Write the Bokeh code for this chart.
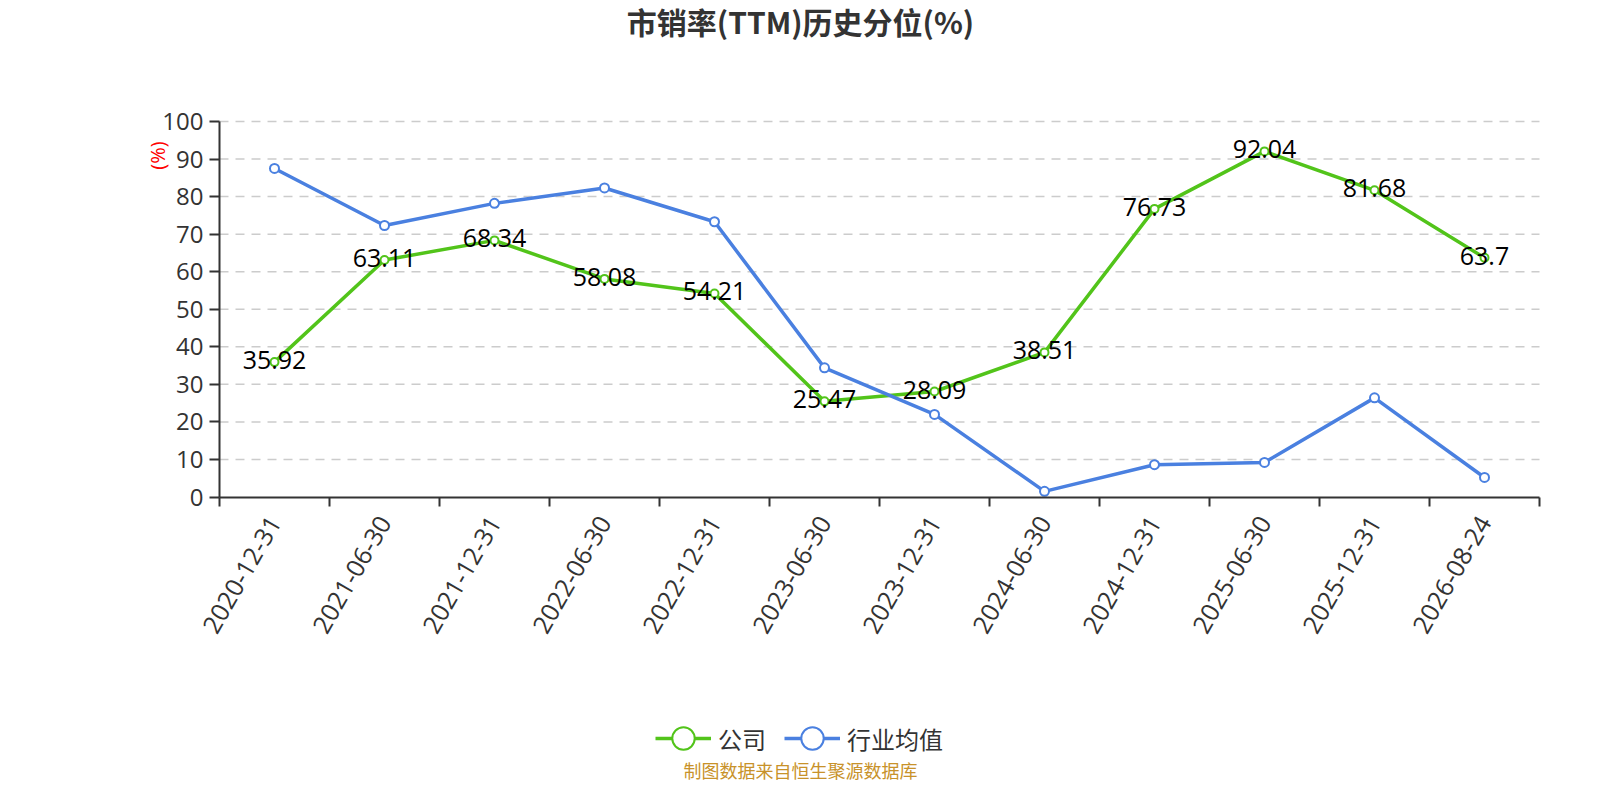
import math
from bokeh.plotting import figure
from bokeh.models import (ColumnDataSource, Range1d, FixedTicker, Legend,
                          LegendItem, Label)
from bokeh.core.properties import value
from bokeh.embed import file_html
from bokeh.resources import INLINE

# ---- data ----
dates = ["2020-12-31", "2021-06-30", "2021-12-31", "2022-06-30", "2022-12-31",
         "2023-06-30", "2023-12-31", "2024-06-30", "2024-12-31", "2025-06-30",
         "2025-12-31", "2026-08-24"]
company = [35.92, 63.11, 68.34, 58.08, 54.21, 25.47, 28.09, 38.51, 76.73, 92.04, 81.68, 63.7]
industry = [87.5, 72.3, 78.2, 82.3, 73.3, 34.4, 22.0, 1.5, 8.6, 9.2, 26.4, 5.2]
y_ticks = [0, 10, 20, 30, 40, 50, 60, 70, 80, 90, 100]

title_text = "市销率(TTM)历史分位(%)"
series_names = ["公司", "行业均值"]
source_text = "制图数据来自恒生聚源数据库"
y_unit = "(%)"

GREEN = "#52c41a"
BLUE = "#4a80e0"
FONT = "Open Sans"
CJK = "Noto Sans CJK SC"

# ---- layout (pixels on the canvas) ----
W, H = 1584, 784
PX_LEFT, PX_RIGHT = 219, 1539      # x = 0 .. n categories
PX_TOP, PX_ZERO = 121, 496.5       # y = 100 .. 0
n = len(dates)
y_max = y_ticks[-1]
kx = (PX_RIGHT - PX_LEFT) / n
ky = (PX_ZERO - PX_TOP) / y_max
x_start = -PX_LEFT / kx
x_end = x_start + W / kx
y_end = y_max + PX_TOP / ky
y_start = -(H - PX_ZERO) / ky

xs = [i + 0.5 for i in range(n)]
src = ColumnDataSource(dict(x=xs, company=company, industry=industry,
                            clabel=[f"{v:g}" for v in company]))
grid_src = ColumnDataSource(dict(y=y_ticks[1:], x0=[0] * (len(y_ticks) - 1),
                                 x1=[n] * (len(y_ticks) - 1)))

p = figure(width=W, height=H, output_backend="svg", toolbar_location=None,
           x_range=Range1d(x_start, x_end), y_range=Range1d(y_start, y_end),
           min_border=0)
p.outline_line_color = None
p.background_fill_color = "white"
p.border_fill_color = "white"
p.xgrid.grid_line_color = None
p.ygrid.grid_line_color = None

# axes fixed at the zero lines
xa = p.xaxis[0]
xa.fixed_location = 0
xa.bounds = (0, n)
xa.ticker = FixedTicker(ticks=xs, minor_ticks=list(range(n + 1)))
xa.major_label_overrides = {x: d for x, d in zip(xs, dates)}
xa.major_label_orientation = math.pi / 3
xa.major_tick_out = 0
xa.major_tick_in = 0
xa.minor_tick_out = 9
xa.minor_tick_in = 0
xa.minor_tick_line_color = "#333333"
xa.minor_tick_line_width = 2
xa.major_label_standoff = 12
xa.major_label_text_font = FONT
xa.major_label_text_font_size = "25px"
xa.major_label_text_color = "#333333"
xa.axis_line_color = "#333333"
xa.axis_line_width = 2

ya = p.yaxis[0]
ya.fixed_location = 0
ya.bounds = (0, y_max)
ya.ticker = FixedTicker(ticks=y_ticks)
ya.minor_tick_line_color = None
ya.major_tick_out = 10
ya.major_tick_in = 0
ya.major_tick_line_color = "#333333"
ya.major_tick_line_width = 2
ya.major_label_standoff = 6
ya.major_label_text_font = FONT
ya.major_label_text_font_size = "24px"
ya.major_label_text_color = "#333333"
ya.axis_line_color = "#333333"
ya.axis_line_width = 2

# dashed horizontal grid lines at the y ticks
p.segment(x0="x0", x1="x1", y0="y", y1="y", source=grid_src,
          line_color="#cccccc", line_width=1.5, line_dash="9 7", level="underlay")

# series
gl = p.line("x", "company", source=src, line_color=GREEN, line_width=3.5)
gs = p.scatter("x", "company", source=src, size=8, fill_color="white",
               line_color=GREEN, line_width=2)
bl = p.line("x", "industry", source=src, line_color=BLUE, line_width=3.5)
bs = p.scatter("x", "industry", source=src, size=9, fill_color="white",
               line_color=BLUE, line_width=2)

p.text("x", "company", text="clabel", source=src, text_align="center",
       text_baseline="middle", text_font=value(FONT), text_font_size="25px",
       text_color="#000000", y_offset=-2)

legend = Legend(items=[LegendItem(label=series_names[0], renderers=[gl, gs]),
                       LegendItem(label=series_names[1], renderers=[bl, bs])],
                location=(655, H - 766), orientation="horizontal",
                glyph_width=56, glyph_height=56, label_height=56,
                label_standoff=7, spacing=18, padding=0, margin=0,
                label_text_font=CJK, label_text_font_size="24px",
                label_text_color="#333333", border_line_color=None,
                background_fill_alpha=0)
p.add_layout(legend, "center")

p.add_layout(Label(x=800, y=H - 20, x_units="screen", y_units="screen",
                   text=title_text, text_align="center", text_baseline="middle",
                   text_font=CJK, text_font_size="30px", text_font_style="bold",
                   text_color="#333333"))
p.add_layout(Label(x=157, y=H - 155, x_units="screen", y_units="screen",
                   text=y_unit, angle=math.pi / 2, text_align="center",
                   text_baseline="middle", text_font=FONT, text_font_size="20px",
                   text_color="#ff0000"))
p.add_layout(Label(x=800, y=H - 769, x_units="screen", y_units="screen",
                   text=source_text, text_align="center", text_baseline="middle",
                   text_font=CJK, text_font_size="18px", text_color="#c8922a"))

open("out.html", "w").write(file_html(p, INLINE))
